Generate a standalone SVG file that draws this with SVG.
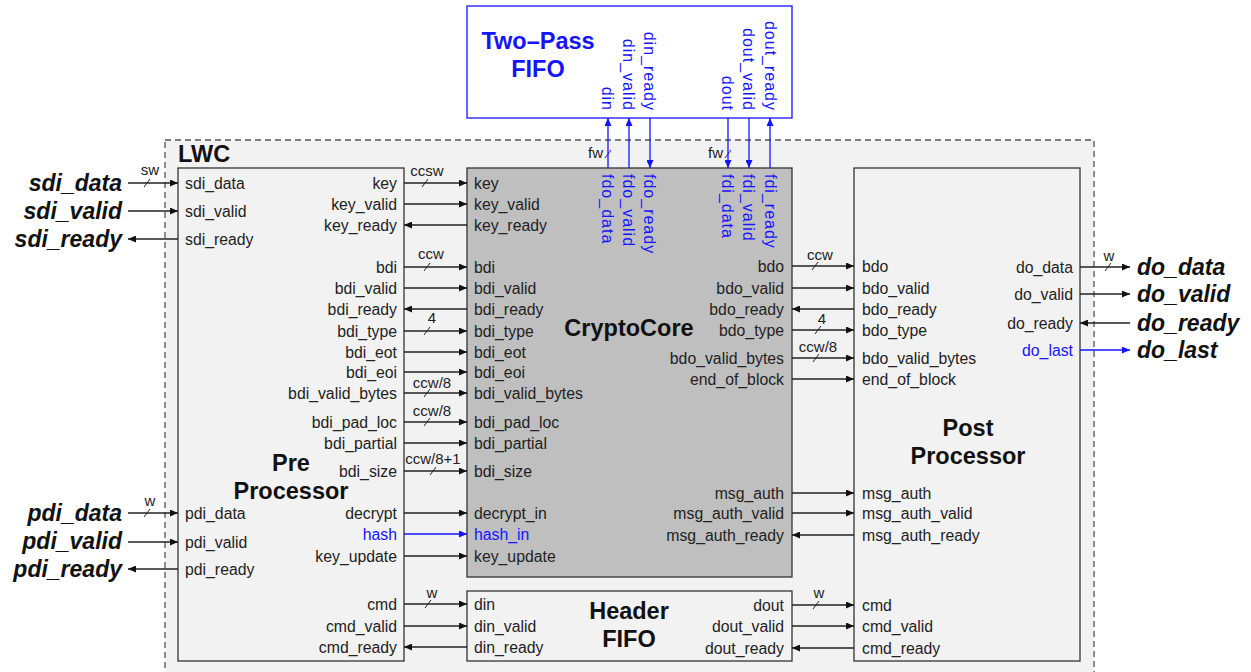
<svg xmlns="http://www.w3.org/2000/svg" width="1251" height="672" viewBox="0 0 1251 672">
<defs>
<marker id="ah" markerUnits="userSpaceOnUse" markerWidth="8" markerHeight="7" refX="8" refY="3.5" orient="auto"><path d="M0,0 L8,3.5 L0,7 z" fill="#111"/></marker>
<marker id="ahb" markerUnits="userSpaceOnUse" markerWidth="8" markerHeight="7" refX="8" refY="3.5" orient="auto"><path d="M0,0 L8,3.5 L0,7 z" fill="#1414ff"/></marker>
</defs>
<style>
text{font-family:"Liberation Sans",Arial,sans-serif}
.p{font-size:15.8px;fill:#222}
.v{font-size:16px;letter-spacing:1px}
.e{text-anchor:end}
.b{fill:#1414ff}
.t{font-size:23.5px;font-weight:bold;fill:#111;text-anchor:middle}
.o{font-size:23px;font-weight:bold;font-style:italic;fill:#111}
.w{font-size:15px;fill:#222;text-anchor:middle}
.c path{stroke:#222;stroke-width:1.3;fill:none;marker-end:url(#ah)}
.c path.bl{stroke:#1414ff;marker-end:url(#ahb)}
.c path.tk{marker-end:none;stroke-width:1}
.c path.tkb{marker-end:none;stroke-width:1;stroke:#1414ff}
.box{stroke:#333;stroke-width:1.3}
</style>
<rect width="1251" height="672" fill="#fff"/>
<g id="lwc">
<rect x="165" y="140" width="929" height="545" fill="#f2f2f2" stroke="#555" stroke-width="1.3" stroke-dasharray="6,4"/>
<text x="178" y="162" class="t" style="text-anchor:start">LWC</text>
</g>
<g id="twopass">
<rect x="467" y="6" width="325" height="112" fill="#fff" stroke="#1414ff" stroke-width="1.3"/>
<text x="538" y="49" class="t" style="fill:#1414ff">Two–Pass</text>
<text x="538" y="77" class="t" style="fill:#1414ff">FIFO</text>
<g class="p v b" style="text-anchor:end">
<text transform="translate(602,111) rotate(90)">din</text>
<text transform="translate(623,111) rotate(90)">din_valid</text>
<text transform="translate(644,111) rotate(90)">din_ready</text>
<text transform="translate(722,111) rotate(90)">dout</text>
<text transform="translate(743,111) rotate(90)">dout_valid</text>
<text transform="translate(765,111) rotate(90)">dout_ready</text>
</g>
</g>
<g id="pre">
<rect x="178" y="168" width="226" height="493" fill="#f2f2f2" class="box"/>
<text x="291" y="471" class="t">Pre</text>
<text x="291" y="499" class="t">Processor</text>
<g class="p">
<text x="185" y="189">sdi_data</text>
<text x="185" y="217">sdi_valid</text>
<text x="185" y="245">sdi_ready</text>
<text x="185" y="519">pdi_data</text>
<text x="185" y="548">pdi_valid</text>
<text x="185" y="575">pdi_ready</text>
</g>
<g class="p e">
<text x="397" y="189">key</text>
<text x="397" y="210">key_valid</text>
<text x="397" y="231">key_ready</text>
<text x="397" y="273">bdi</text>
<text x="397" y="294">bdi_valid</text>
<text x="397" y="315">bdi_ready</text>
<text x="397" y="337">bdi_type</text>
<text x="397" y="358">bdi_eot</text>
<text x="397" y="378">bdi_eoi</text>
<text x="397" y="399">bdi_valid_bytes</text>
<text x="397" y="428">bdi_pad_loc</text>
<text x="397" y="449">bdi_partial</text>
<text x="397" y="477">bdi_size</text>
<text x="397" y="519">decrypt</text>
<text x="397" y="540" class="b">hash</text>
<text x="397" y="562">key_update</text>
<text x="397" y="610">cmd</text>
<text x="397" y="632">cmd_valid</text>
<text x="397" y="653">cmd_ready</text>
</g>
</g>
<g id="crypto">
<rect x="467" y="168" width="325" height="409" fill="#bfbfbf" class="box"/>
<text x="629" y="336" class="t">CryptoCore</text>
<g class="p">
<text x="474" y="189">key</text>
<text x="474" y="210">key_valid</text>
<text x="474" y="231">key_ready</text>
<text x="474" y="273">bdi</text>
<text x="474" y="294">bdi_valid</text>
<text x="474" y="315">bdi_ready</text>
<text x="474" y="337">bdi_type</text>
<text x="474" y="358">bdi_eot</text>
<text x="474" y="378">bdi_eoi</text>
<text x="474" y="399">bdi_valid_bytes</text>
<text x="474" y="428">bdi_pad_loc</text>
<text x="474" y="449">bdi_partial</text>
<text x="474" y="477">bdi_size</text>
<text x="474" y="519">decrypt_in</text>
<text x="474" y="540" class="b">hash_in</text>
<text x="474" y="562">key_update</text>
</g>
<g class="p e">
<text x="784" y="272">bdo</text>
<text x="784" y="294">bdo_valid</text>
<text x="784" y="315">bdo_ready</text>
<text x="784" y="336">bdo_type</text>
<text x="784" y="364">bdo_valid_bytes</text>
<text x="784" y="385">end_of_block</text>
<text x="784" y="499">msg_auth</text>
<text x="784" y="519">msg_auth_valid</text>
<text x="784" y="541">msg_auth_ready</text>
</g>
<g class="p v b">
<text transform="translate(602,174) rotate(90)">fdo_data</text>
<text transform="translate(623,174) rotate(90)">fdo_valid</text>
<text transform="translate(644,174) rotate(90)">fdo_ready</text>
<text transform="translate(722,174) rotate(90)">fdi_data</text>
<text transform="translate(743,174) rotate(90)">fdi_valid</text>
<text transform="translate(765,174) rotate(90)">fdi_ready</text>
</g>
</g>
<g id="header">
<rect x="467" y="591" width="325" height="70" fill="#f2f2f2" class="box"/>
<text x="629" y="619" class="t">Header</text>
<text x="629" y="647" class="t">FIFO</text>
<g class="p">
<text x="474" y="610">din</text>
<text x="474" y="632">din_valid</text>
<text x="474" y="653">din_ready</text>
</g>
<g class="p e">
<text x="784" y="611">dout</text>
<text x="784" y="632">dout_valid</text>
<text x="784" y="654">dout_ready</text>
</g>
</g>
<g id="post">
<rect x="854" y="168" width="226" height="493" fill="#f2f2f2" class="box"/>
<text x="968" y="436" class="t">Post</text>
<text x="968" y="464" class="t">Processor</text>
<g class="p">
<text x="862" y="272">bdo</text>
<text x="862" y="294">bdo_valid</text>
<text x="862" y="315">bdo_ready</text>
<text x="862" y="336">bdo_type</text>
<text x="862" y="364">bdo_valid_bytes</text>
<text x="862" y="385">end_of_block</text>
<text x="862" y="499">msg_auth</text>
<text x="862" y="519">msg_auth_valid</text>
<text x="862" y="541">msg_auth_ready</text>
<text x="862" y="611">cmd</text>
<text x="862" y="632">cmd_valid</text>
<text x="862" y="654">cmd_ready</text>
</g>
<g class="p e">
<text x="1073" y="273">do_data</text>
<text x="1073" y="300">do_valid</text>
<text x="1073" y="329">do_ready</text>
<text x="1073" y="356" class="b">do_last</text>
</g>
</g>
<g id="ext">
<text x="122" y="191" class="o e">sdi_data</text>
<text x="122" y="219" class="o e">sdi_valid</text>
<text x="122" y="247" class="o e">sdi_ready</text>
<text x="122" y="521" class="o e">pdi_data</text>
<text x="122" y="549" class="o e">pdi_valid</text>
<text x="122" y="577" class="o e">pdi_ready</text>
<text x="1137" y="275" class="o">do_data</text>
<text x="1137" y="302" class="o">do_valid</text>
<text x="1137" y="331" class="o">do_ready</text>
<text x="1137" y="358" class="o b">do_last</text>
</g>
<g id="connectors" class="c">
<path d="M128,183 H178"/><path d="M128,211 H178"/><path d="M178,239 H128"/>
<path d="M128,513 H178"/><path d="M128,542 H178"/><path d="M178,569 H128"/>
<path d="M404,183 H467"/><path d="M404,204 H467"/><path d="M467,225 H404"/>
<path d="M404,267 H467"/><path d="M404,288 H467"/><path d="M467,309 H404"/>
<path d="M404,331 H467"/><path d="M404,352 H467"/><path d="M404,372 H467"/>
<path d="M404,393 H467"/><path d="M404,422 H467"/><path d="M404,443 H467"/>
<path d="M404,471 H467"/><path d="M404,513 H467"/><path class="bl" d="M404,534 H467"/>
<path d="M404,556 H467"/><path d="M404,604 H467"/><path d="M404,626 H467"/><path d="M467,647 H404"/>
<path d="M792,266 H854"/><path d="M792,288 H854"/><path d="M854,309 H792"/>
<path d="M792,330 H854"/><path d="M792,358 H854"/><path d="M792,379 H854"/>
<path d="M792,493 H854"/><path d="M792,513 H854"/><path d="M854,535 H792"/>
<path d="M792,605 H854"/><path d="M792,626 H854"/><path d="M854,648 H792"/>
<path d="M1080,267 H1130"/><path d="M1080,294 H1130"/><path d="M1130,323 H1080"/><path class="bl" d="M1080,350 H1130"/>
<path class="bl" d="M608,168 V118"/><path class="bl" d="M629,168 V118"/><path class="bl" d="M650,118 V168"/>
<path class="bl" d="M728,118 V168"/><path class="bl" d="M749,118 V168"/><path class="bl" d="M770,168 V118"/>
<path class="tk" d="M144,187 L150,179"/><path class="tk" d="M144,517 L150,509"/>
<path class="tk" d="M422,187 L428,179"/><path class="tk" d="M424,271 L430,263"/>
<path class="tk" d="M424,335 L430,327"/><path class="tk" d="M424,397 L430,389"/>
<path class="tk" d="M424,426 L430,418"/><path class="tk" d="M430,475 L436,467"/>
<path class="tk" d="M425,608 L431,600"/>
<path class="tk" d="M812,270 L818,262"/><path class="tk" d="M815,334 L821,326"/>
<path class="tk" d="M813,362 L819,354"/><path class="tk" d="M813,609 L819,601"/>
<path class="tk" d="M1105,271 L1111,263"/>
<path class="tkb" d="M605,158 L611,150"/><path class="tkb" d="M725,158 L731,150"/>
</g>
<g id="widths">
<text x="150" y="175" class="w">sw</text>
<text x="150" y="506" class="w">w</text>
<text x="427" y="176" class="w">ccsw</text>
<text x="431" y="259" class="w">ccw</text>
<text x="432" y="323" class="w">4</text>
<text x="432" y="388" class="w">ccw/8</text>
<text x="432" y="416" class="w">ccw/8</text>
<text x="433" y="464" class="w">ccw/8+1</text>
<text x="432" y="598" class="w">w</text>
<text x="820" y="260" class="w">ccw</text>
<text x="822" y="324" class="w">4</text>
<text x="818" y="352" class="w">ccw/8</text>
<text x="819" y="598" class="w">w</text>
<text x="1109" y="261" class="w">w</text>
<text x="603" y="158" class="w b" style="text-anchor:end">fw</text>
<text x="723" y="158" class="w b" style="text-anchor:end">fw</text>
</g>
</svg>
